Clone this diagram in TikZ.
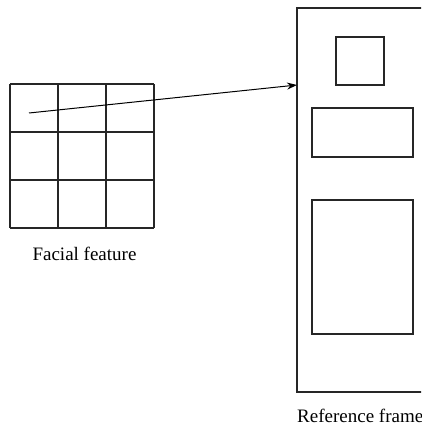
\documentclass[tikz,border=0pt]{standalone}
\usepackage{fontspec}
\setmainfont{Liberation Serif}
\usetikzlibrary{arrows.meta}
\begin{document}
\begin{tikzpicture}[x=1pt,y=-1pt,
  box/.style={draw=black!85,line width=1.1pt},
  lbl/.style={font=\fontsize{19}{22}\selectfont,inner sep=0pt}]
\useasboundingbox (0,0) rectangle (421,428);
\clip (0,0) rectangle (421,428);
% grid
\foreach \i in {0,1,2,3} {
  \draw[box] (10+48*\i,84) -- (10+48*\i,228);
  \draw[box] (10,84+48*\i) -- (154,84+48*\i);
}
\node[lbl,anchor=base] (ff) at (84.5,260) {Facial feature};
% reference frame
\draw[box] (297,8) rectangle (440,392);
\coordinate (fl) at (297,85);
\draw[box] (336,37) rectangle (384,85);
\draw[box] (312,108) rectangle (413,157);
\draw[box] (312,200) rectangle (413,334);
\node[lbl,anchor=base west] (rf) at (297,422) {Reference frame};
% arrow
\coordinate (st) at (29,113);
\draw[line width=1pt,-{Stealth[length=10pt,width=7pt]}] (st) -- (fl);
\end{tikzpicture}
\end{document}
